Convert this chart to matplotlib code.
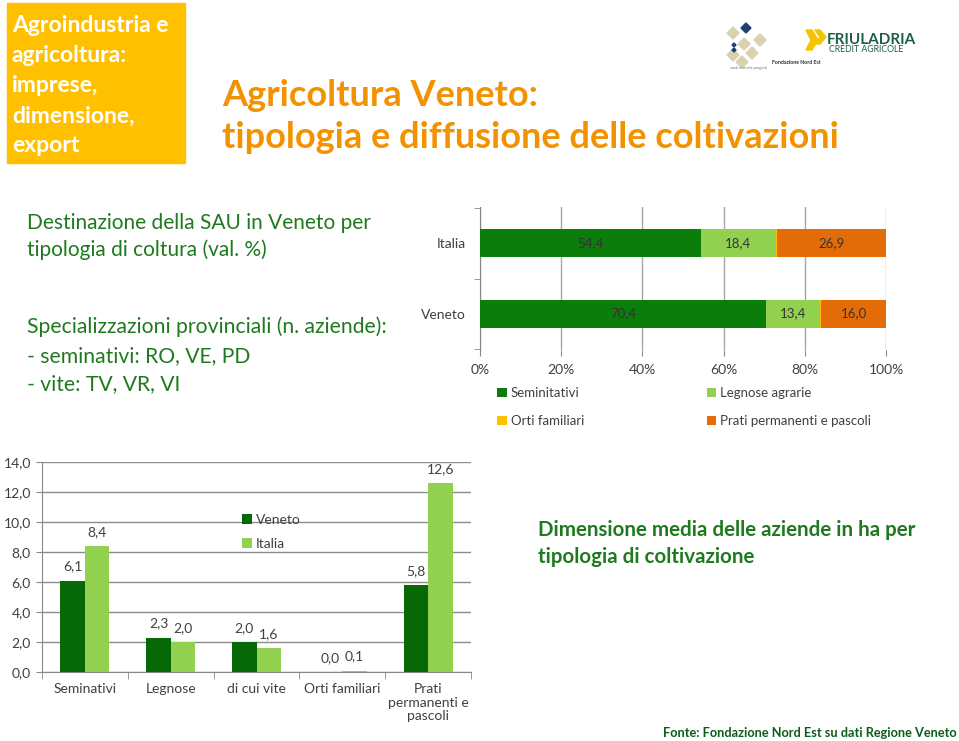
import matplotlib
matplotlib.use('Agg')
import matplotlib.pyplot as plt
from matplotlib.patches import Rectangle, Polygon

plt.rcParams['font.family'] = ['Lato', 'DejaVu Sans']

# dati: destinazione SAU (val. %)
aree = ['Veneto', 'Italia']
seminativi = [70.4, 54.4]
legnose = [13.4, 18.4]
orti = [0.2, 0.3]
prati = [16.0, 26.9]
serie_nomi = ['Seminitativi', 'Legnose agrarie', 'Orti familiari', 'Prati permanenti e pascoli']

# dati: dimensione media aziende (ha)
tipologie = ['Seminativi', 'Legnose', 'di cui vite', 'Orti familiari', 'Prati\npermanenti e\npascoli']
dim_veneto = [6.1, 2.3, 2.0, 0.0, 5.8]
dim_italia = [8.4, 2.0, 1.6, 0.1, 12.6]

VERDE_SCURO = '#0a7d0a'
VERDE_CHIARO = '#92d050'
GIALLO = '#ffc000'
ARANCIO = '#e36c09'
TESTO_VERDE = '#1f7a1f'
GRIGIO = '#404040'


def virgola(v):
    return f'{v:.1f}'.replace('.', ',')


fig = plt.figure(figsize=(9.59, 7.41), dpi=100)

# sfondo / decorazioni in coordinate pixel
deco = fig.add_axes([0, 0, 1, 1])
deco.set_xlim(0, 959)
deco.set_ylim(741, 0)
deco.axis('off')
deco.add_patch(Rectangle((7, 3), 178, 160, color=GIALLO))
for i, riga in enumerate(['Agroindustria e', 'agricoltura:', 'imprese,', 'dimensione,', 'export']):
    deco.text(12, 26 + i * 30, riga, color='white', fontsize=16.5, fontweight='bold', va='center')
deco.text(222, 95, 'Agricoltura Veneto:', color='#f39200', fontsize=26, fontweight='bold', va='center')
deco.text(222, 137, 'tipologia e diffusione delle coltivazioni', color='#f39200', fontsize=26,
          fontweight='bold', va='center')

# logo Fondazione Nord Est (approssimato)
def rombo(cx, cy, r, col):
    deco.add_patch(Polygon([(cx, cy - r), (cx + r, cy), (cx, cy + r), (cx - r, cy)], color=col))

for cx, cy in [(733, 33), (744, 44), (733, 55), (752, 53), (742, 62), (760, 40)]:
    rombo(cx, cy, 6, '#d8d2b0')
rombo(746, 28, 5, '#1f3f73')
rombo(734, 45, 2, '#1f3f73')
rombo(734, 50, 2, '#1f3f73')
deco.text(772, 63, 'Fondazione Nord Est', fontsize=3.8, color='#333333', va='center', fontweight='bold')
deco.text(730, 68, 'studi ricerche progetti', fontsize=2.8, color='#777777', va='center')

# logo FriulAdria
deco.add_patch(Polygon([(806, 30), (812, 30), (818, 40), (812, 50), (806, 50), (811, 40)], color='#f5c400'))
deco.add_patch(Polygon([(815, 30), (820, 30), (826, 37), (820, 44), (815, 44), (820, 37)], color='#f5c400'))
deco.text(827, 40, 'FRIULADRIA', fontsize=11, color='#1b5e4a', va='center', fontweight='bold')
deco.text(829, 50, 'CRÉDIT AGRICOLE', fontsize=6.3, color='#1b5e4a', va='center')

# testi a sinistra
deco.text(27, 223, 'Destinazione della SAU in Veneto per', color=TESTO_VERDE, fontsize=15, va='center')
deco.text(27, 250, 'tipologia di coltura (val. %)', color=TESTO_VERDE, fontsize=15, va='center')
deco.text(27, 327, 'Specializzazioni provinciali (n. aziende):', color=TESTO_VERDE, fontsize=15.2, va='center')
deco.text(27, 356, '- seminativi: RO, VE, PD', color=TESTO_VERDE, fontsize=15.2, va='center')
deco.text(27, 384, '- vite: TV, VR, VI', color=TESTO_VERDE, fontsize=15.2, va='center')

deco.text(538, 530, 'Dimensione media delle aziende in ha per', color=TESTO_VERDE, fontsize=14.8,
          va='center', fontweight='bold')
deco.text(538, 557, 'tipologia di coltivazione', color=TESTO_VERDE, fontsize=14.8,
          va='center', fontweight='bold')
deco.text(957, 733, 'Fonte: Fondazione Nord Est su dati Regione Veneto', color='#0b5e1a', fontsize=9.2,
          ha='right', va='center', fontweight='bold')

# grafico a barre orizzontali in pila
ax1 = fig.add_axes([480 / 959, 1 - 350 / 741, 406 / 959, 143 / 741])
y = list(range(len(aree)))
sinistra = [0.0] * len(aree)
colori = [VERDE_SCURO, VERDE_CHIARO, GIALLO, ARANCIO]
for nome, valori, col in zip(serie_nomi, [seminativi, legnose, orti, prati], colori):
    barre = ax1.barh(y, valori, left=sinistra, height=0.4, color=col, label=nome, zorder=3)
    if nome != 'Orti familiari':
        for b, v in zip(barre, valori):
            ax1.text(b.get_x() + b.get_width() / 2, b.get_y() + b.get_height() / 2, virgola(v),
                     ha='center', va='center', fontsize=9.5, color='#333333', zorder=4)
    sinistra = [s + v for s, v in zip(sinistra, valori)]
ax1.set_xlim(0, 100)
ax1.set_ylim(-0.52, 1.52)
ax1.set_xticks(range(0, 101, 20))
ax1.set_xticklabels([f'{t}%' for t in range(0, 101, 20)], fontsize=10, color=GRIGIO)
ax1.set_yticks(y)
ax1.set_yticklabels(aree, fontsize=10, color=GRIGIO)
ax1.set_yticks([-0.5, 0.5, 1.5], minor=True)
ax1.tick_params(axis='y', which='major', length=0, pad=10)
ax1.tick_params(axis='y', which='minor', length=4, color='#888888')
ax1.tick_params(axis='x', length=4, color='#888888', pad=6)
ax1.grid(axis='x', color='#a6a6a6', linewidth=1, zorder=0)
for s in ['top', 'right', 'bottom']:
    ax1.spines[s].set_visible(False)
ax1.spines['left'].set_color('#888888')
h, l = ax1.get_legend_handles_labels()
ordine = [0, 2, 1, 3]
ax1.legend([h[i] for i in ordine], [l[i] for i in ordine], ncol=2, loc='upper left',
           bbox_to_anchor=(0.03, -0.22), frameon=False, fontsize=9.5, handlelength=0.7,
           handleheight=0.7, handletextpad=0.3, columnspacing=9.3, labelspacing=1.25,
           borderaxespad=0, labelcolor=GRIGIO)

# grafico a barre verticali raggruppate
ax2 = fig.add_axes([42 / 959, 1 - 672 / 741, 429 / 959, 210 / 741])
x = list(range(len(tipologie)))
w = 0.285
b1 = ax2.bar([i - w / 2 for i in x], dim_veneto, width=w, color='#066806', label='Veneto', zorder=3)
b2 = ax2.bar([i + w / 2 for i in x], dim_italia, width=w, color=VERDE_CHIARO, label='Italia', zorder=3)
for barre, valori in [(b1, dim_veneto), (b2, dim_italia)]:
    for b, v in zip(barre, valori):
        ax2.text(b.get_x() + b.get_width() / 2, v + 0.55, virgola(v), ha='center', va='bottom',
                 fontsize=10, color=GRIGIO)
ax2.set_xlim(-0.5, len(tipologie) - 0.5)
ax2.set_ylim(0, 14)
ax2.set_yticks(range(0, 15, 2))
ax2.set_yticklabels([virgola(t) for t in range(0, 15, 2)], fontsize=10, color=GRIGIO)
ax2.set_xticks(x)
ax2.set_xticklabels(tipologie, fontsize=10, color=GRIGIO, linespacing=1.15, va='top')
ax2.set_xticks([i - 0.5 for i in range(len(tipologie) + 1)], minor=True)
ax2.tick_params(axis='x', which='major', length=0, pad=8)
ax2.tick_params(axis='x', which='minor', length=5, color='#888888')
ax2.tick_params(axis='y', length=4, color='#888888', pad=4)
ax2.grid(axis='y', color='#8c8c8c', linewidth=1, zorder=0)
for s in ['top', 'right']:
    ax2.spines[s].set_visible(False)
ax2.spines['left'].set_color('#888888')
ax2.spines['bottom'].set_color('#888888')
ax2.legend(loc='center', bbox_to_anchor=(0.535, 0.667), frameon=False, fontsize=10,
           handlelength=0.7, handleheight=0.7, handletextpad=0.3, labelspacing=0.85,
           labelcolor=GRIGIO)

fig.savefig('out.png', dpi=100)
